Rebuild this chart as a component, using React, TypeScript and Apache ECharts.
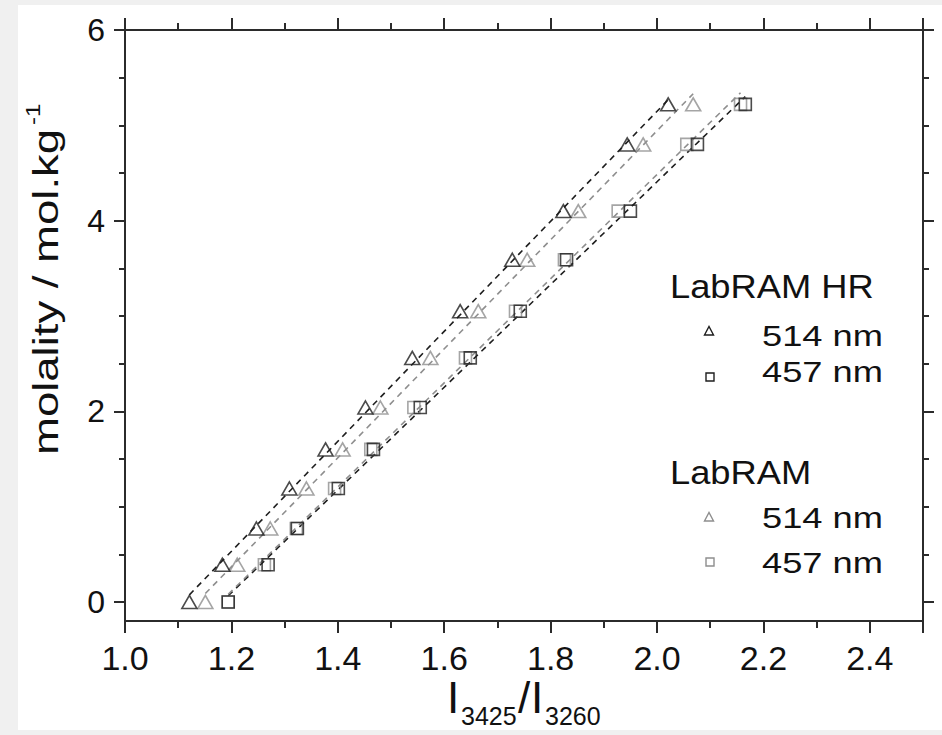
import React, { useEffect, useRef } from "react";
import * as echarts from "echarts";

// molality (mol/kg) — shared y values
const molality = [0, 0.39, 0.77, 1.19, 1.6, 2.04, 2.56, 3.05, 3.59, 4.1, 4.8, 5.22];
// I3425/I3260 ratios
const hr514 = [1.121, 1.183, 1.247, 1.309, 1.377, 1.452, 1.54, 1.63, 1.728, 1.824, 1.944, 2.021];
const hr457 = [1.194, 1.269, 1.324, 1.401, 1.467, 1.555, 1.649, 1.743, 1.83, 1.95, 2.076, 2.166];
const lr514 = [1.151, 1.211, 1.273, 1.341, 1.409, 1.48, 1.574, 1.664, 1.756, 1.852, 1.974, 2.068];
const lr457 = [1.194, 1.262, 1.322, 1.394, 1.462, 1.543, 1.64, 1.734, 1.826, 1.927, 2.056, 2.157];

const yLabelValues = [0, 2, 4, 6];
const yMinorValues = [0.5, 1, 1.5, 2.5, 3, 3.5, 4.5, 5, 5.5];

const FONT = "'Liberation Sans', Arial, Helvetica, sans-serif";
const BLACK = "#1e1e1e";
const GRAY = "#8e8e8e";
const AXIS = "#2b2b2b";

function pairs(xs: number[], ys: number[]) {
  return xs.map((x, i) => [x, ys[i]]);
}

function fitLine(xs: number[], ys: number[]) {
  const n = xs.length;
  const mx = xs.reduce((a, b) => a + b, 0) / n;
  const my = ys.reduce((a, b) => a + b, 0) / n;
  let sxy = 0;
  let sxx = 0;
  for (let i = 0; i < n; i++) {
    sxy += (xs[i] - mx) * (ys[i] - my);
    sxx += (xs[i] - mx) * (xs[i] - mx);
  }
  const b = sxy / sxx;
  const a = my - b * mx;
  const x0 = Math.min(...xs);
  const x1 = Math.max(...xs);
  return [
    [x0, a + b * x0],
    [x1, a + b * x1],
  ];
}

function scatter(name: string, xs: number[], symbol: string, color: string) {
  return {
    name,
    type: "scatter",
    data: pairs(xs, molality),
    symbol,
    symbolSize: symbol === "triangle" ? [15, 13] : [12, 12],
    itemStyle: { color: "rgba(0,0,0,0)", borderColor: color, borderWidth: 1.6 },
    z: 5,
    silent: true,
  };
}

function fit(name: string, xs: number[], color: string) {
  return {
    name,
    type: "line",
    data: fitLine(xs, molality),
    symbol: "none",
    lineStyle: { color, width: 1.6, type: [6, 5] },
    z: 3,
    silent: true,
  };
}

function legendText(text: string, x: number, y: number, size: number, sx: number) {
  return {
    type: "text",
    x,
    y,
    scaleX: sx,
    style: {
      text,
      x: 0,
      y: 0,
      fontSize: size,
      fontFamily: FONT,
      fill: "#111",
      textAlign: "left",
      verticalAlign: "middle",
    },
    z: 50,
  };
}

function triMark(cx: number, cy: number, color: string) {
  return {
    type: "polygon",
    shape: { points: [[cx - 4.5, cy + 4], [cx, cy - 4.5], [cx + 4.5, cy + 4]] },
    style: { fill: "none", stroke: color, lineWidth: 1.4 },
    z: 50,
  };
}

function sqMark(cx: number, cy: number, color: string) {
  return {
    type: "rect",
    shape: { x: cx - 4, y: cy - 4, width: 8, height: 8 },
    style: { fill: "none", stroke: color, lineWidth: 1.4 },
    z: 50,
  };
}

function titleText(text: string, x: number, y: number, size: number) {
  return {
    type: "text",
    x,
    y,
    style: { text, fontSize: size, fontFamily: FONT, fill: "#111", textAlign: "left", verticalAlign: "middle" },
    z: 50,
  };
}

export default function App() {
  const ref = useRef<HTMLDivElement>(null);
  useEffect(() => {
    if (!ref.current) return;
    const chart = echarts.init(ref.current, null, { renderer: "svg" });
    const yCommon = { type: "value", min: -0.2, max: 6, splitLine: { show: false } };
    const xCommon = {
      type: "value",
      min: 1.0,
      max: 2.5,
      interval: 0.2,
      splitLine: { show: false },
      axisLine: { show: true, onZero: false, lineStyle: { color: AXIS, width: 2 } },
      axisTick: { show: true, length: 12, lineStyle: { color: AXIS, width: 2 } },
      minorTick: { show: true, splitNumber: 2, length: 7, lineStyle: { color: AXIS, width: 2 } },
    };
    const option = {
      animation: false,
      backgroundColor: "#ffffff",
      grid: { left: 125, right: 19, top: 30, bottom: 114, containLabel: false },
      xAxis: [
        {
          ...xCommon,
          position: "bottom",
          axisLabel: {
            show: true,
            showMaxLabel: false,
            margin: 20,
            fontSize: 34,
            fontFamily: FONT,
            color: "#111",
            formatter: (v: number) => v.toFixed(1),
          },
        },
        {
          ...xCommon,
          position: "top",
          axisLabel: { show: false },
        },
      ],
      yAxis: [
        {
          ...yCommon,
          position: "left",
          axisLine: { show: true, onZero: false, lineStyle: { color: AXIS, width: 2 } },
          axisTick: { show: true, length: 11, customValues: yLabelValues, lineStyle: { color: AXIS, width: 2 } },
          axisLabel: {
            show: true,
            customValues: yLabelValues,
            margin: 20,
            fontSize: 32,
            fontFamily: FONT,
            color: "#111",
          },
        },
        {
          ...yCommon,
          position: "left",
          axisLine: { show: false },
          axisTick: { show: true, length: 6, customValues: yMinorValues, lineStyle: { color: AXIS, width: 2 } },
          axisLabel: { show: false },
        },
        {
          ...yCommon,
          position: "right",
          axisLine: { show: true, onZero: false, lineStyle: { color: AXIS, width: 2 } },
          axisTick: { show: true, length: 11, customValues: yLabelValues, lineStyle: { color: AXIS, width: 2 } },
          axisLabel: { show: false },
        },
        {
          ...yCommon,
          position: "right",
          axisLine: { show: false },
          axisTick: { show: true, length: 6, customValues: yMinorValues, lineStyle: { color: AXIS, width: 2 } },
          axisLabel: { show: false },
        },
      ],
      series: [
        fit("fit HR 514", hr514, BLACK),
        fit("fit HR 457", hr457, BLACK),
        fit("fit LabRAM 514", lr514, GRAY),
        fit("fit LabRAM 457", lr457, GRAY),
        scatter("LabRAM 514 nm", lr514, "triangle", GRAY),
        scatter("LabRAM 457 nm", lr457, "rect", GRAY),
        scatter("LabRAM HR 514 nm", hr514, "triangle", BLACK),
        scatter("LabRAM HR 457 nm", hr457, "rect", BLACK),
      ],
      graphic: [
        // legend block
        legendText("LabRAM HR", 670, 286.5, 33, 1.1),
        triMark(709, 331, BLACK),
        legendText("514 nm", 762, 335.5, 29, 1.25),
        sqMark(710, 377, BLACK),
        legendText("457 nm", 762, 372, 29, 1.25),
        legendText("LabRAM", 670, 472.5, 33, 1.1),
        triMark(709, 517, GRAY),
        legendText("514 nm", 762, 517.5, 29, 1.25),
        sqMark(710, 562, GRAY),
        legendText("457 nm", 762, 563, 29, 1.25),
        // y axis title
        {
          type: "group",
          x: 57.5,
          y: 455,
          rotation: Math.PI / 2,
          z: 50,
          children: [
            {
              type: "text",
              x: 0,
              y: -12,
              scaleX: 1.3,
              style: {
                text: "molality / mol.kg",
                fontSize: 35,
                fontFamily: FONT,
                fill: "#111",
                textAlign: "left",
                verticalAlign: "middle",
              },
            },
            {
              type: "text",
              x: 330,
              y: -24,
              scaleX: 1.2,
              style: {
                text: "-1",
                fontSize: 20,
                fontFamily: FONT,
                fill: "#111",
                textAlign: "left",
                verticalAlign: "middle",
              },
            },
          ],
        },
        // x axis title
        titleText("I", 447, 697, 44),
        titleText("3425", 461, 716, 25),
        titleText("/", 518, 697, 44),
        titleText("I", 531, 697, 44),
        titleText("3260", 545, 716, 25),
        // light gray page border
        { type: "rect", shape: { x: 0, y: 0, width: 942, height: 5 }, style: { fill: "#f0f0f0" }, z: 100 },
        { type: "rect", shape: { x: 0, y: 0, width: 18, height: 735 }, style: { fill: "#f0f0f0" }, z: 100 },
        { type: "rect", shape: { x: 0, y: 730, width: 942, height: 5 }, style: { fill: "#f0f0f0" }, z: 100 },
      ],
    };
    chart.setOption(option as any);
    return () => chart.dispose();
  }, []);
  return (
    <div
      ref={ref}
      style={{ position: "fixed", left: 0, top: 0, width: 942, height: 735 }}
    />
  );
}
